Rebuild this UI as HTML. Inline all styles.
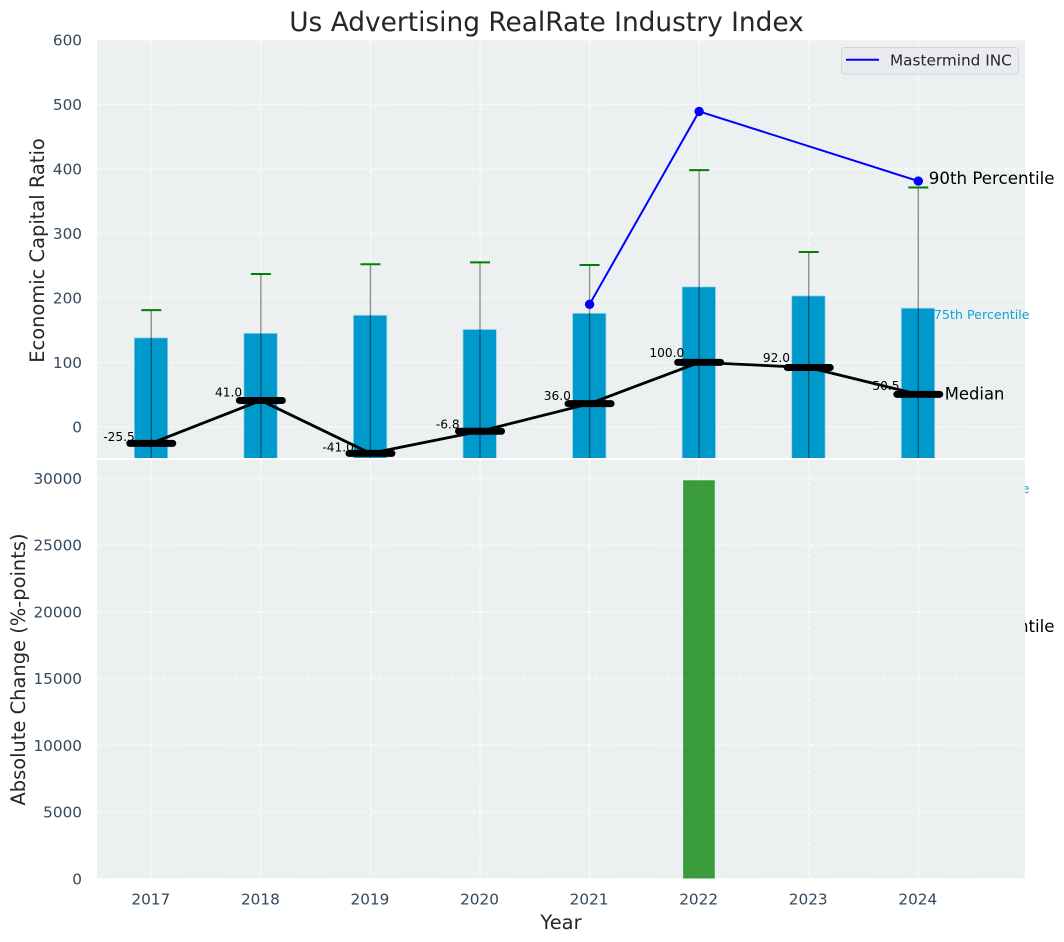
<!DOCTYPE html>
<html>
<head>
<meta charset="utf-8">
<title>Us Advertising RealRate Industry Index</title>
<style>
html,body{margin:0;padding:0;background:#fff;width:1064px;height:942px;overflow:hidden}
svg{display:block}
text{font-family:"DejaVu Sans","Liberation Sans",sans-serif}
</style>
</head>
<body>
<svg id="chart" xmlns="http://www.w3.org/2000/svg" width="1064" height="942" viewBox="0 0 1064 942">
  <defs>
    <clipPath id="upper-clip"><rect x="97" y="40" width="928" height="418"/></clipPath>
    <clipPath id="lower-clip"><rect x="97" y="460" width="928" height="418.5"/></clipPath>
  </defs>
  <text x="546.5" y="31" text-anchor="middle" font-size="26.4px" fill="#262626">Us Advertising RealRate Industry Index</text>
  <g id="upper"></g>
  <g id="lower"></g>
  <text transform="translate(44 250.5) rotate(-90)" text-anchor="middle" font-size="19.44px" fill="#262626">Economic Capital Ratio</text>
  <text transform="translate(25 669.5) rotate(-90)" text-anchor="middle" font-size="19.44px" fill="#262626">Absolute Change (%-points)</text>
  <text x="561" y="929" text-anchor="middle" font-size="19.44px" fill="#262626">Year</text>
</svg>
<script>
const years = [2017, 2018, 2019, 2020, 2021, 2022, 2023, 2024];
const p90 = [181, 237, 252, 255, 251, 398, 271, 371];
const p75 = [138, 145, 173, 151, 176, 217, 203, 184];
const median = [-25.5, 41, -41, -6.8, 36, 100, 92, 50.5];
const medianLabels = ['-25.5', '41.0', '-41.0', '-6.8', '36.0', '100.0', '92.0', '50.5'];
const p25 = [-70, -65, -85, -75, -70, -60, -65, -86];
const p10 = [-200, -180, -250, -220, -190, -170, -200, -323];
const company = [null, null, null, null, 190, 489, null, 381];
const absChange = [0, 0, 0, 0, 0, 29850, 0, 0];
const upperTicks = [0, 100, 200, 300, 400, 500, 600];
const lowerTicks = [0, 5000, 10000, 15000, 20000, 25000, 30000];

const NS = 'http://www.w3.org/2000/svg';
const upper = document.getElementById('upper');
const lower = document.getElementById('lower');

function xScale(year) { return 151.3 + (year - 2017) * 109.57; }
function yUpper(v) { return 426.9 - v * 0.6452; }
function yLower(v) { return 878.6 - v * (400.3 / 30000); }

function make(parent, tag, attrs, content) {
  const el = document.createElementNS(NS, tag);
  for (const k in attrs) el.setAttribute(k, attrs[k]);
  if (content !== undefined) el.textContent = content;
  parent.appendChild(el);
  return el;
}

function drawGrid(parent, clip, ticks, yFn, prefix) {
  const g = make(parent, 'g', { 'clip-path': 'url(#' + clip + ')' });
  
  
  const top = clip === 'upper-clip' ? 40 : 460;
  const bottom = clip === 'upper-clip' ? 458 : 878.5;
  ticks.forEach(function (t) {
    const y = yFn(t);
    const line = make(g, 'line', { x1: 97, x2: 1025, y1: y, y2: y, stroke: '#ffffff', 'stroke-width': 1.1, 'stroke-dasharray': '5 2.2', opacity: 0.85 });
    
    
  });
  years.forEach(function (yr) {
    const x = xScale(yr);
    const line = make(g, 'line', { x1: x, x2: x, y1: top, y2: bottom, stroke: '#ffffff', 'stroke-width': 1.1, 'stroke-dasharray': '5 2.2', opacity: 0.85 });
    
    
  });
}

function drawYTicks(parent, ticks, yFn, prefix) {
  ticks.forEach(function (t) {
    const label = make(parent, 'text', { x: 82, y: yFn(t) + 5.7, 'text-anchor': 'end', 'font-size': '15.28px', fill: '#34495e' }, String(t));
    
    
  });
}

/* ---------- upper panel ---------- */
const upperBg = make(upper, 'rect', { x: 97, y: 40, width: 928, height: 418, fill: '#ecf0f1' });


drawGrid(upper, 'upper-clip', upperTicks, yUpper, 'upper');
drawYTicks(upper, upperTicks, yUpper, 'upper');

const marks = make(upper, 'g', { 'clip-path': 'url(#upper-clip)' });



years.forEach(function (yr, i) {
  const x = xScale(yr);
  const top = yUpper(p75[i]);
  const bar = make(marks, 'rect', { x: x - 17, y: top, width: 33.4, height: yUpper(p25[i]) - top, fill: '#0099cc', stroke: '#9ad4e8', 'stroke-width': 0.8 });
  
  
});
years.forEach(function (yr, i) {
  const x = xScale(yr);
  const whisker = make(marks, 'line', { x1: x, x2: x, y1: yUpper(p90[i]), y2: yUpper(p10[i]), stroke: '#000000', 'stroke-opacity': 0.42, 'stroke-width': 1.4 });
  
  
  const capTop = make(marks, 'line', { x1: x - 10, x2: x + 10, y1: yUpper(p90[i]), y2: yUpper(p90[i]), stroke: '#008000', 'stroke-width': 2 });
  
  
  const capBottom = make(marks, 'line', { x1: x - 10, x2: x + 10, y1: yUpper(p10[i]), y2: yUpper(p10[i]), stroke: '#008000', 'stroke-width': 2 });
  
  
});

/* median labels, under the thick median marks */
years.forEach(function (yr, i) {
  const labelY = yUpper(median[i] * 1.04 + 11.6) + 4.5;
  const label = make(upper, 'text', { x: xScale(yr) - 32.3, y: labelY, 'text-anchor': 'middle', 'font-size': '12.2px', fill: '#000000' }, medianLabels[i]);
  
  
});

const medianPath = years.map(function (yr, i) { return xScale(yr) + ',' + yUpper(median[i]); }).join(' ');
const medianLine = make(upper, 'polyline', { points: medianPath, fill: 'none', stroke: '#000000', 'stroke-width': 2.8 });


years.forEach(function (yr, i) {
  const x = xScale(yr);
  const y = yUpper(median[i]);
  const tick = make(upper, 'line', { x1: x - 21.5, x2: x + 21.5, y1: y, y2: y, stroke: '#000000', 'stroke-width': 7, 'stroke-linecap': 'round' });
  
  
});

const companyPoints = [];
years.forEach(function (yr, i) {
  if (company[i] !== null) companyPoints.push(xScale(yr) + ',' + yUpper(company[i]));
});
const companyLine = make(upper, 'polyline', { points: companyPoints.join(' '), fill: 'none', stroke: '#0000ff', 'stroke-width': 2 });


years.forEach(function (yr, i) {
  if (company[i] === null) return;
  const dot = make(upper, 'circle', { cx: xScale(yr), cy: yUpper(company[i]), r: 4.7, fill: '#0000ff' });
  
  
});

/* percentile annotations next to the final year */
const last = years.length - 1;
const lastX = xScale(years[last]);
const a90 = make(upper, 'text', { x: lastX + 10.5, y: yUpper(p90[last]) - 3.5, 'font-size': '16.67px', fill: '#000000' }, '90th Percentile');


const a75 = make(upper, 'text', { x: lastX + 15.5, y: yUpper(p75[last]) + 11, 'font-size': '12.7px', fill: '#0099cc', opacity: 0.9 }, '75th Percentile');


const aMed = make(upper, 'text', { x: lastX + 26.5, y: yUpper(median[last]) + 5, 'font-size': '16.4px', fill: '#000000' }, 'Median');


const a25 = make(upper, 'text', { x: lastX + 15.5, y: yUpper(p25[last]) + 10.5, 'font-size': '12.7px', fill: '#0099cc', opacity: 0.9 }, '25th Percentile');


const a10 = make(upper, 'text', { x: lastX + 10.5, y: yUpper(p10[last]) - 3.5, 'font-size': '16.67px', fill: '#000000' }, '10th Percentile');



/* legend */
const legend = make(upper, 'g', {});


const legendBox = make(legend, 'rect', { x: 841.5, y: 47.5, width: 177, height: 26.5, rx: 3, fill: '#e9ebee', stroke: '#d4d6d8', 'stroke-width': 1 });


const legendLine = make(legend, 'line', { x1: 846, x2: 879, y1: 59.7, y2: 59.7, stroke: '#0000ff', 'stroke-width': 2 });


const legendText = make(legend, 'text', { x: 890, y: 65.5, 'font-size': '15.28px', fill: '#262626' }, 'Mastermind INC');



/* ---------- lower panel ---------- */
const lowerBg = make(lower, 'rect', { x: 97, y: 460, width: 928, height: 418.5, fill: '#ecf0f1' });


drawGrid(lower, 'lower-clip', lowerTicks, yLower, 'lower');
drawYTicks(lower, lowerTicks, yLower, 'lower');

const lowerMarks = make(lower, 'g', { 'clip-path': 'url(#lower-clip)' });


years.forEach(function (yr, i) {
  const x = xScale(yr);
  const top = yLower(absChange[i]);
  const bar = make(lowerMarks, 'rect', { x: x - 16, y: top, width: 31.6, height: yLower(0) - top, fill: '#008000', 'fill-opacity': 0.76 });
  
  
});

years.forEach(function (yr) {
  const label = make(lower, 'text', { x: xScale(yr) - 0.5, y: 904.5, 'text-anchor': 'middle', 'font-size': '15.28px', fill: '#34495e' }, String(yr));
  
  
});
</script>
</body>
</html>
